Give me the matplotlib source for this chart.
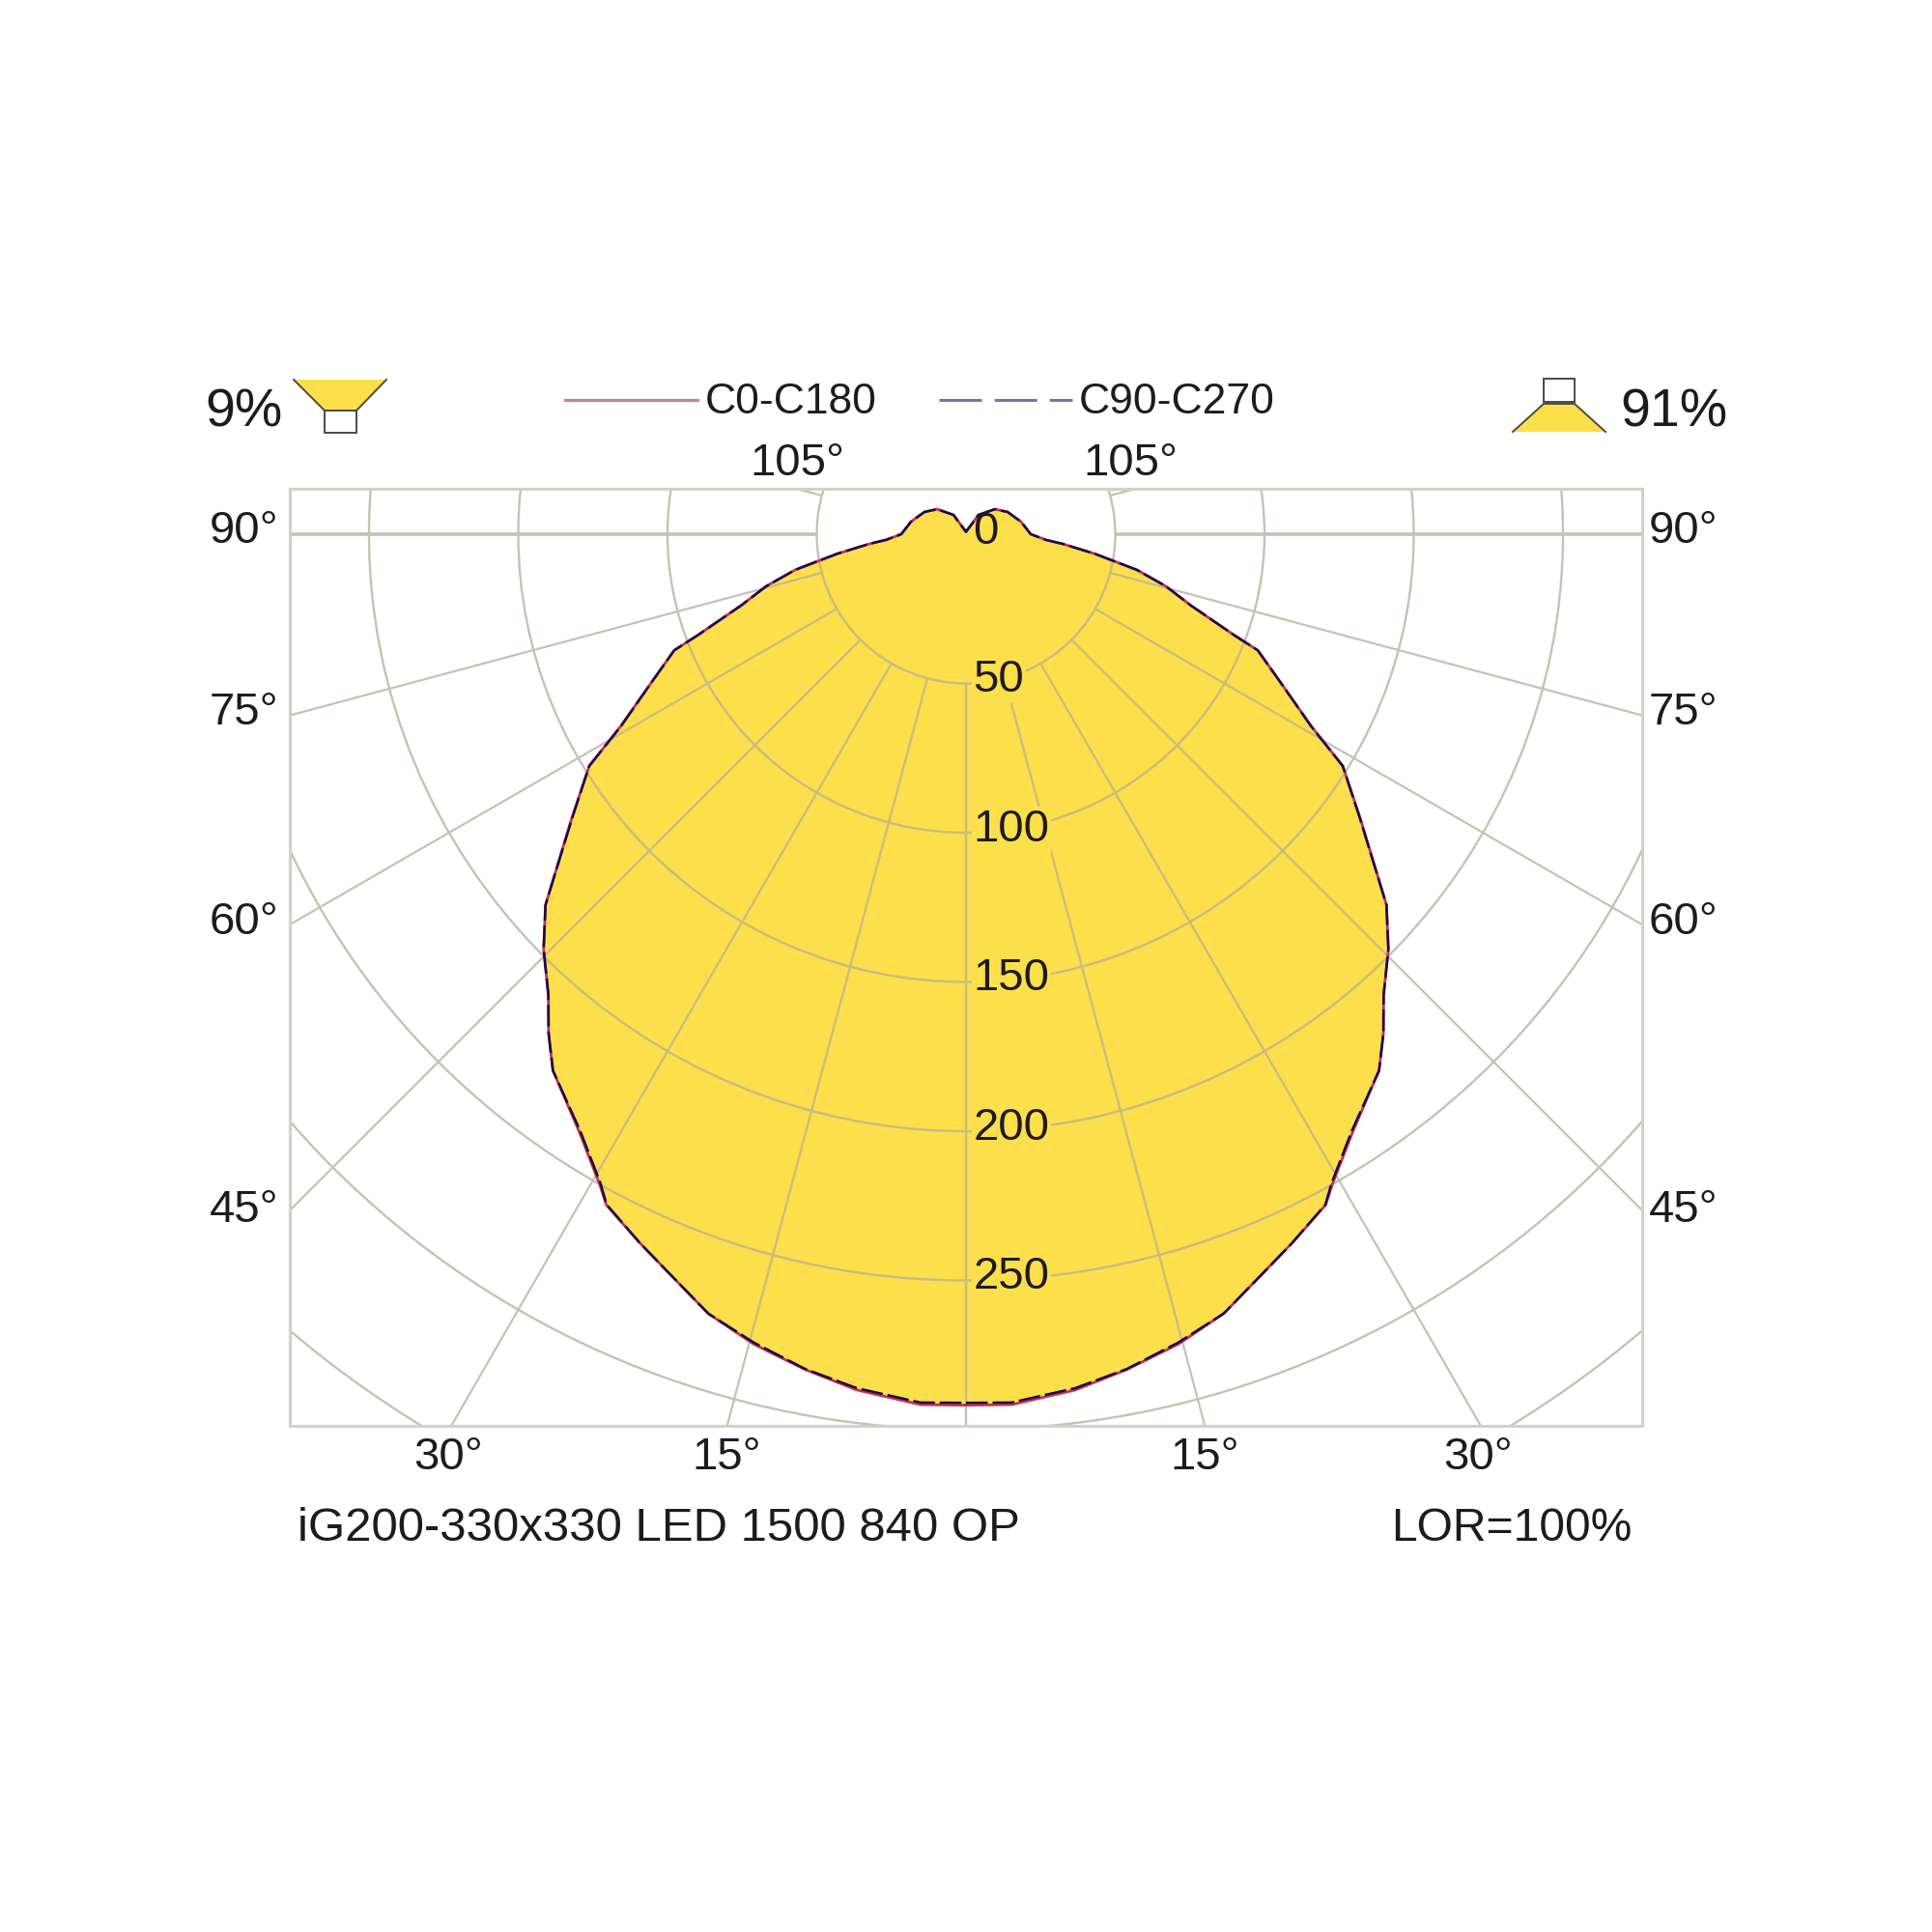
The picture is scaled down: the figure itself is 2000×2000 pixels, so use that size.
import numpy as np
import matplotlib
matplotlib.use("Agg")
import matplotlib.pyplot as plt
from matplotlib.patches import Circle, Polygon, Rectangle

plt.rcParams["font.family"] = ["Liberation Sans", "DejaVu Sans"]

# polar curve: angle from nadir (deg), intensity (cd/klm)
theta = [0, 3, 7.3, 10.9, 14.7, 18.3, 21.9, 24.7, 28.2, 29.4, 32.9, 37.6, 39.9, 42.2, 45.5, 48.6, 54.2, 58.4,
         60.9, 64.6, 68.3, 69.4, 72.4, 75.4, 78.2, 81.4, 84.3, 85.9, 90, 102.8, 118.1, 130.9, 147, 180]
c0_c180 = [291.8, 292, 289, 285, 280.5, 275, 266.8, 261.4, 255, 250, 238.5, 226.8, 218, 208.3, 198.4, 187.8,
           162.9, 148.2, 132.5, 117.1, 105.2, 95.8, 79.1, 69.2, 58.5, 43.5, 32.5, 26.9, 21.7, 18.9, 15.8, 12.8, 7.7, 0.8]
c90_c270 = [291, 291.3, 288.4, 284.8, 280, 275, 266.8, 261.4, 254.8, 249.5, 238, 226.8, 218, 208.3, 198.4, 187.8,
            162.7, 148.2, 132.3, 117.1, 105.2, 95.8, 79.1, 69.2, 58.5, 43.5, 32.5, 26.9, 21.7, 18.9, 15.8, 12.8, 7.7, 0.8]

ring_values = [50, 100, 150, 200, 250, 300, 350]
ring_labels = [0, 50, 100, 150, 200, 250]
spoke_angles = [0, 15, 30, 45, 60, 75, 90, 105]

YELLOW = "#fddf4b"
GRID = "#c4c2b6"
GRID_ON_FILL = "#c6bc80"
FRAME = "#d2d1c8"
TEXT = "#1c1c1c"

W = 2000.0
CX, CY = 1000.0, 553.0   # pixel position of the polar centre
PX = 3.09                # pixels per cd/klm
BOX = (300, 1700, 506, 1476)  # left right top bottom


def polar(t, r):
    t = np.radians(np.asarray(t, dtype=float))
    return np.asarray(r) * np.sin(t), -np.asarray(r) * np.cos(t)


fig = plt.figure(figsize=(10, 10), dpi=200, facecolor="white")
ax = fig.add_axes([BOX[0] / W, 1 - BOX[3] / W, (BOX[1] - BOX[0]) / W, (BOX[3] - BOX[2]) / W])
ax.set_xlim((BOX[0] - CX) / PX, (BOX[1] - CX) / PX)
ax.set_ylim((CY - BOX[3]) / PX, (CY - BOX[2]) / PX)
ax.set_xticks([]); ax.set_yticks([])
for s in ax.spines.values():
    s.set_color(FRAME); s.set_linewidth(1.1)

# filled distribution, both half planes
x, y = polar(theta, c0_c180)
shape = ax.fill(np.r_[x, -x[::-1]], np.r_[y, y[::-1]], color=YELLOW, lw=0, zorder=1)[0]

# grid: grey on white, then an olive copy cut to the fill
for r in ring_values:
    ax.add_patch(Circle((0, 0), r, fill=False, ec=GRID, lw=0.85, zorder=0.5))
    inner = ax.add_patch(Circle((0, 0), r, fill=False, ec=GRID_ON_FILL, lw=0.85, zorder=2))
    inner.set_clip_path(shape)
for a in spoke_angles:
    lw = 1.3 if a == 90 else 0.8
    for sign in (1, -1):
        sx, sy = polar([a, a], [50, 500])
        ax.plot(sign * sx, sy, color=GRID, lw=lw, zorder=0.5, solid_capstyle="butt")
        inner = ax.plot(sign * sx, sy, color=GRID_ON_FILL, lw=lw, zorder=2, solid_capstyle="butt")[0]
        inner.set_clip_path(shape)

# curves: same data mirrored left and right
x, y = polar(theta, c0_c180)
ax.plot(np.r_[x, -x[::-1]], np.r_[y, y[::-1]], color="#c8304a", lw=1.0, zorder=3)
x, y = polar(theta, c90_c270)
ax.plot(np.r_[x, -x[::-1]], np.r_[y, y[::-1]], color="#160a50", lw=0.9, dashes=(9, 2), zorder=4)

# intensity labels along the vertical
for v in ring_labels:
    bbox = None if v == 0 else dict(fc=YELLOW, ec="none", pad=0.6)
    ax.text(2.4, -v + (0.5 if v == 0 else 1.0), str(v), fontsize=17, color=TEXT, ha="left", va="center", bbox=bbox, zorder=5)


def label(px, py, s, size=17, ha="left"):
    fig.text(px / W, 1 - py / W, s, fontsize=size, color=TEXT, ha=ha, va="baseline")


# angle labels round the frame
for s, lx, rx, by in [("90°", 217, 1707, 562), ("75°", 217, 1707, 750), ("60°", 217, 1707, 967), ("45°", 217, 1707, 1265)]:
    label(lx, by, s)
    label(rx, by, s)
for s, px in [("30°", 428), ("15°", 716), ("15°", 1211), ("30°", 1494)]:
    label(px, 1521, s)
label(776, 492, "105°")
label(1121, 492, "105°")

# legend
label(730, 428, "C0-C180", 16)
label(1117, 428, "C90-C270", 16)
fig.add_artist(plt.Line2D([585 / W, 722 / W], [1 - 414 / W] * 2, color="#cf8080", lw=1.1))
fig.add_artist(plt.Line2D([972 / W, 1110 / W], [1 - 414 / W] * 2, color="#7474ac", lw=1.1, dashes=(14.4, 4.3)))

# up / down light share icons
label(212, 442, "9%", 20)
label(1677, 442, "91%", 20)
icons = [
    [(304, 393), (400, 393), (369, 425), (336, 425)],
    [(1598, 418), (1630, 418), (1662, 447), (1566, 447)],
]
for pts in icons:
    fig.add_artist(Polygon([(a / W, 1 - b / W) for a, b in pts], closed=True, fc=YELLOW, ec="none"))
edge = "#4a4a44"
fig.add_artist(plt.Line2D([304 / W, 336 / W, 369 / W, 400 / W], [1 - 393 / W, 1 - 425 / W, 1 - 425 / W, 1 - 393 / W], color=edge, lw=0.7))
fig.add_artist(plt.Line2D([1566 / W, 1598 / W, 1630 / W, 1662 / W], [1 - 447 / W, 1 - 418 / W, 1 - 418 / W, 1 - 447 / W], color=edge, lw=0.7))
fig.add_artist(Rectangle((336 / W, 1 - 448 / W), 33 / W, 23 / W, fc="white", ec=edge, lw=0.7))
fig.add_artist(Rectangle((1598 / W, 1 - 416 / W), 32 / W, 24 / W, fc="white", ec=edge, lw=0.7))

# footer
label(308, 1595, "iG200-330x330 LED 1500 840 OP", 17.7)
label(1689, 1595, "LOR=100%", 17.3, ha="right")

fig.savefig("out.png", dpi=200, facecolor="white")
